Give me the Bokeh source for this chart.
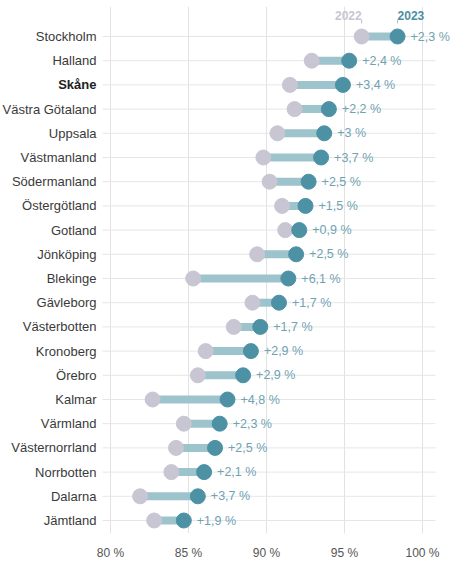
from bokeh.plotting import figure
from bokeh.models import ColumnDataSource, FixedTicker
from bokeh.core.properties import value
from bokeh.embed import file_html
from bokeh.resources import INLINE

regions = ["Stockholm", "Halland", "Skåne", "Västra Götaland", "Uppsala", "Västmanland",
           "Södermanland", "Östergötland", "Gotland", "Jönköping", "Blekinge", "Gävleborg",
           "Västerbotten", "Kronoberg", "Örebro", "Kalmar", "Värmland", "Västernorrland",
           "Norrbotten", "Dalarna", "Jämtland"]
v2022 = [96.1, 92.9, 91.5, 91.8, 90.7, 89.8, 90.2, 91.0, 91.2, 89.4, 85.3, 89.1,
         87.9, 86.1, 85.6, 82.7, 84.7, 84.2, 83.9, 81.9, 82.8]
v2023 = [98.4, 95.3, 94.9, 94.0, 93.7, 93.5, 92.7, 92.5, 92.1, 91.9, 91.4, 90.8,
         89.6, 89.0, 88.5, 87.5, 87.0, 86.7, 86.0, 85.6, 84.7]
change_labels = ["+2,3 %", "+2,4 %", "+3,4 %", "+2,2 %", "+3 %", "+3,7 %", "+2,5 %",
                 "+1,5 %", "+0,9 %", "+2,5 %", "+6,1 %", "+1,7 %", "+1,7 %", "+2,9 %",
                 "+2,9 %", "+4,8 %", "+2,3 %", "+2,5 %", "+2,1 %", "+3,7 %", "+1,9 %"]
x_ticks = [80, 85, 90, 95, 100]
x_tick_labels = ["80 %", "85 %", "90 %", "95 %", "100 %"]
series_names = ["2022", "2023"]
highlight = "Skåne"

# ---- styling / layout constants ----
C22 = "#c9c6d3"
C23 = "#4d91a5"
CBAR = "#9dc3cd"
CLAB = "#6fa2b2"
FONT = "Liberation Sans"

FRAME_W, FRAME_H = 450, 527
BORDER_TOP, BORDER_BOTTOM = 6, 20
PX_PER_PCT = 15.6       # horizontal scale
X80_PX = 110            # pixel position of the first tick inside the frame
PX_PER_ROW = 24.2
TOP_PAD_PX, BOTTOM_PAD_PX = 30, 13

x_start = x_ticks[0] - X80_PX / PX_PER_PCT
x_end = x_start + FRAME_W / PX_PER_PCT
grid_x0 = x_ticks[0] - 8 / PX_PER_PCT
grid_x1 = x_ticks[-1] + 13 / PX_PER_PCT
name_x = x_ticks[0] - 14 / PX_PER_PCT

n = len(regions)
ypos = [n - 1 - i for i in range(n)]
y_start = ypos[-1] - BOTTOM_PAD_PX / PX_PER_ROW
y_end = ypos[0] + TOP_PAD_PX / PX_PER_ROW

src = ColumnDataSource(dict(
    region=regions, v2022=v2022, v2023=v2023, y=ypos, lab=change_labels,
    gx0=[grid_x0] * n, gx1=[grid_x1] * n, nx=[name_x] * n,
    style=["bold" if r == highlight else "normal" for r in regions],
    ncol=["#222222" if r == highlight else "#3a3a3a" for r in regions],
))

p = figure(frame_width=FRAME_W, frame_height=FRAME_H,
           x_range=(x_start, x_end), y_range=(y_start, y_end),
           output_backend="svg", toolbar_location=None, y_axis_location=None,
           min_border_left=0, min_border_right=0,
           min_border_top=BORDER_TOP, min_border_bottom=BORDER_BOTTOM)
p.outline_line_color = None
p.background_fill_color = "white"

# x axis
p.xaxis.ticker = FixedTicker(ticks=x_ticks)
p.xaxis.major_label_overrides = {t: l for t, l in zip(x_ticks, x_tick_labels)}
p.xaxis.axis_line_color = None
p.xaxis.major_tick_line_color = None
p.xaxis.minor_tick_line_color = None
p.xaxis.major_label_text_font = FONT
p.xaxis.major_label_text_font_size = "12px"
p.xaxis.major_label_text_color = "#555555"
p.xaxis.major_label_standoff = 6

p.xgrid.ticker = FixedTicker(ticks=x_ticks)
p.xgrid.grid_line_color = "#e2e2e2"
p.ygrid.visible = False

# horizontal row guide lines
p.segment(x0="gx0", x1="gx1", y0="y", y1="y", source=src,
          line_color="#e6e6e6", line_width=1)

# region names
p.text(x="nx", y="y", text="region", source=src, text_align="right",
       text_baseline="middle", text_font=value(FONT), text_font_size=value("13px"),
       text_font_style="style", text_color="ncol")

# bars and dots
p.segment(x0="v2022", x1="v2023", y0="y", y1="y", source=src,
          line_width=8, line_color=CBAR, line_cap="butt")
p.scatter(x="v2022", y="y", source=src, size=15, fill_color=C22, line_color=C22)
p.scatter(x="v2023", y="y", source=src, size=15, fill_color=C23, line_color=C23)

# change labels
p.text(x="v2023", y="y", text="lab", source=src, x_offset=13,
       text_baseline="middle", text_align="left",
       text_font=value(FONT), text_font_size=value("12.5px"), text_color=CLAB)

# header for the top row
y0 = ypos[0]
hx = [v2022[0], v2023[0]]
p.segment(x0=hx, x1=hx, y0=[y0 + 0.54] * 2, y1=[y0 + 0.7] * 2,
          line_color="#bbbbbb", line_width=1)
p.text(x=hx, y=[y0 + 0.85] * 2, text=series_names, text_align=["right", "left"],
       text_baseline="alphabetic", text_font=value(FONT), text_font_size=value("12px"),
       text_font_style="bold", text_color=[C22, "#4d8ea3"])

open("out.html", "w").write(file_html(p, INLINE))
